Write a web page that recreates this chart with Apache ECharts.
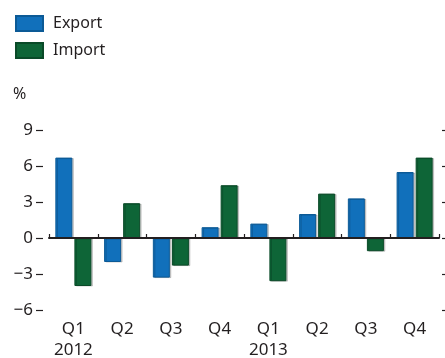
<!DOCTYPE html>
<html>
<head>
<meta charset="utf-8">
<script src="https://cdn.jsdelivr.net/npm/echarts@6/dist/echarts.min.js"></script>
<style>
html,body{margin:0;padding:0;background:#fff;}
#chart{width:445px;height:358px;}
</style>
</head>
<body>
<div id="chart"></div>
<script>
var quarters = ['Q1\n2012', 'Q2', 'Q3', 'Q4', 'Q1\n2013', 'Q2', 'Q3', 'Q4'];
var exportValues = [6.7, -2.0, -3.3, 0.9, 1.2, 2.0, 3.3, 5.5];
var importValues = [-4.0, 2.9, -2.3, 4.4, -3.6, 3.7, -1.1, 6.7];
var yTicks = { min: -6, max: 9, interval: 3 };
var unitLabel = '%';

var font = '"Noto Sans", "Open Sans", sans-serif';
var textColor = '#231f20';
var chart = echarts.init(document.getElementById('chart'), null, { renderer: 'canvas' });

function barSeries(name, data, color, border) {
  return {
    name: name,
    type: 'bar',
    data: data,
    xAxisIndex: 0,
    yAxisIndex: 0,
    barWidth: 17,
    barGap: '12%',
    itemStyle: {
      color: color,
      borderColor: border,
      borderWidth: 1,
      shadowColor: 'rgba(0,0,0,0.18)',
      shadowOffsetX: 1.5,
      shadowOffsetY: 0.5,
      shadowBlur: 0
    }
  };
}

chart.setOption({
  animation: false,
  backgroundColor: '#ffffff',
  textStyle: { fontFamily: font, color: textColor },
  legend: {
    orient: 'vertical',
    left: 15,
    top: 15,
    itemWidth: 27,
    itemHeight: 15,
    itemGap: 10,
    padding: 0,
    icon: 'rect',
    textStyle: { fontFamily: font, fontSize: 16, color: textColor, padding: [0, 0, 0, 5] },
    data: ['Export', 'Import']
  },
  graphic: [{
    type: 'text',
    left: 13,
    top: 86,
    style: { text: unitLabel, fontFamily: font, fontSize: 16, fill: textColor }
  }],
  grid: { left: 49, right: 6, top: 130, bottom: 48, containLabel: false, outerBoundsMode: 'none' },
  xAxis: [{
    type: 'category',
    data: quarters,
    z: 5,
    axisLine: { onZero: true, lineStyle: { color: textColor, width: 2 } },
    axisTick: { show: true, inside: true, length: 4, interval: 0, lineStyle: { color: textColor, width: 1.2 } },
    axisLabel: { show: false, interval: 0 },
    splitLine: { show: false }
  }, {
    type: 'category',
    data: quarters,
    position: 'bottom',
    axisLine: { show: false, onZero: false },
    axisTick: { show: false },
    axisLabel: { show: true, interval: 0, hideOverlap: false, margin: 9, fontFamily: font, fontSize: 17, color: textColor, lineHeight: 21 },
    splitLine: { show: false }
  }],
  yAxis: [{
    type: 'value',
    position: 'left',
    offset: 6,
    min: yTicks.min,
    max: yTicks.max,
    interval: yTicks.interval,
    axisLine: { show: false },
    axisTick: { show: true, length: 7, lineStyle: { color: textColor, width: 1.2 } },
    axisLabel: {
      margin: 10,
      fontFamily: font,
      fontSize: 17,
      color: textColor,
      padding: [0, 0, 5, 0],
      formatter: function (v) { return v < 0 ? '\u2212' + Math.abs(v) : String(v); }
    },
    splitLine: { show: false }
  }, {
    type: 'value',
    position: 'right',
    offset: 3,
    min: yTicks.min,
    max: yTicks.max,
    interval: yTicks.interval,
    axisLine: { show: false },
    axisTick: { show: true, length: 7, lineStyle: { color: textColor, width: 1.2 } },
    axisLabel: { show: false },
    splitLine: { show: false }
  }],
  series: [
    barSeries('Export', exportValues, '#1170bb', '#0c5a96'),
    barSeries('Import', importValues, '#0e6537', '#0a4a28')
  ]
});
</script>
</body>
</html>
